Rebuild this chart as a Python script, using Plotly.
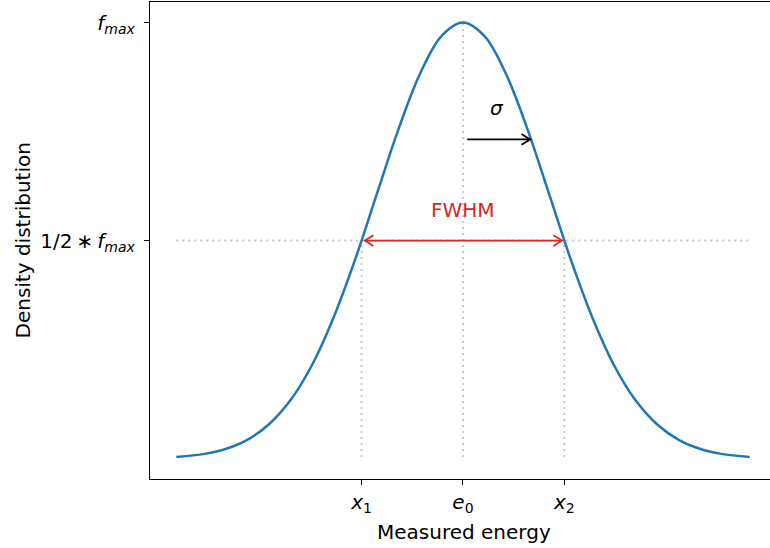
import plotly.graph_objects as go

# ---- data (in units of sigma, density normalised to f_max = 1) ----
energy = [-3.33, -3.0, -2.75, -2.5, -2.25, -2.0, -1.75, -1.5, -1.25, -1.0, -0.75, -0.5, -0.25, 0.0,
          0.25, 0.5, 0.75, 1.0, 1.25, 1.5, 1.75, 2.0, 2.25, 2.5, 2.75, 3.0, 3.33]
density = [0.0039, 0.0111, 0.0228, 0.0439, 0.0796, 0.135, 0.216, 0.325, 0.458, 0.607, 0.755, 0.882, 0.969, 1.0,
           0.969, 0.882, 0.755, 0.607, 0.458, 0.325, 0.216, 0.135, 0.0796, 0.0439, 0.0228, 0.0111, 0.0039]
x_ticks = [-1.1774, 0.0, 1.1774]
x_tick_labels = ["<i>x</i><sub>1</sub>", "<i>e</i><sub>0</sub>", "<i>x</i><sub>2</sub>"]
y_ticks = [0.5, 1.0]
y_tick_labels = ["1/2\u2009∗\u2009<i>f</i><sub><i>max</i></sub>", "<i>f</i><sub><i>max</i></sub>"]
sigma_arrow = [0.05, 0.78, 0.732]      # x start, x end, y
fwhm_arrow = [-1.14, 1.15, 0.5]        # x start, x end, y

FONT = "DejaVu Sans"
FS = 20
BLUE = "#1f77b4"
RED = "#d62728"
GRID = "#c8c8c8"

fig = go.Figure()

ymin = min(density)
xmin, xmax = min(energy), max(energy)

# guide lines
fig.add_trace(go.Scatter(x=[xmin, xmax], y=[0.5, 0.5], mode="lines",
                         line=dict(color=GRID, width=2, dash="2px,4px"), hoverinfo="skip"))
for xv, top in zip(x_ticks, [0.5, 1.0, 0.5]):
    fig.add_trace(go.Scatter(x=[xv, xv], y=[ymin, top], mode="lines",
                             line=dict(color=GRID, width=2, dash="2px,4px"), hoverinfo="skip"))

# curve
fig.add_trace(go.Scatter(x=energy, y=density, mode="lines", line=dict(color=BLUE, width=2.5, shape="spline"),
                         hoverinfo="skip"))

# arrows drawn as open V heads
HL = 0.10    # head length (x units)
HW = 0.0125  # head half-width (y units)

def arrow(x0, x1, y, color, both=False):
    xs = [x0, x1, None, x1 - HL, x1, x1 - HL]
    ys = [y, y, None, y + HW, y, y - HW]
    if both:
        xs += [None, x0 + HL, x0, x0 + HL]
        ys += [None, y + HW, y, y - HW]
    fig.add_trace(go.Scatter(x=xs, y=ys, mode="lines", line=dict(color=color, width=1.8),
                             hoverinfo="skip"))

arrow(sigma_arrow[0], sigma_arrow[1], sigma_arrow[2], "black")
arrow(fwhm_arrow[0], fwhm_arrow[1], fwhm_arrow[2], RED, both=True)

fig.add_annotation(x=0.395, y=0.805, text="<i>σ</i>", showarrow=False,
                   font=dict(family=FONT, size=FS, color="black"))
fig.add_annotation(x=0.0, y=0.5695, text="FWHM", showarrow=False,
                   font=dict(family=FONT, size=FS, color=RED))

# axis titles as annotations (pixel placement relative to plot area)
fig.add_annotation(x=(464 - 150) / 620, xref="paper", y=0, yref="paper", yanchor="middle",
                   yshift=-53, text="Measured energy", showarrow=False,
                   font=dict(family=FONT, size=FS, color="black"))
fig.add_annotation(x=0, xref="paper", xshift=22 - 150, y=0.5, yref="paper", text="Density distribution",
                   textangle=-90, showarrow=False, font=dict(family=FONT, size=FS, color="black"),
                   xanchor="center")

fig.update_layout(
    width=770, height=548,
    margin=dict(l=150, r=0, t=2, b=69, autoexpand=False),
    paper_bgcolor="white", plot_bgcolor="white",
    showlegend=False,
    font=dict(family=FONT, size=FS, color="black"),
    xaxis=dict(range=[-3.635, 3.566], tickvals=x_ticks, ticktext=x_tick_labels, automargin=False,
               showgrid=False, zeroline=False, showline=True, linecolor="black", linewidth=1.3,
               mirror=True, ticks="outside", ticklen=5, tickwidth=1.3, tickcolor="black",
               tickfont=dict(family=FONT, size=FS)),
    yaxis=dict(range=[-0.0465, 1.047], tickvals=y_ticks, ticktext=y_tick_labels, automargin=False,
               showgrid=False, zeroline=False, showline=True, linecolor="black", linewidth=1.3,
               ticks="outside", ticklen=5, tickwidth=1.3, tickcolor="black", ticklabelstandoff=5,
               tickfont=dict(family=FONT, size=FS)),
)

fig.write_html("out.html", config={"displayModeBar": False},
               post_script="document.body.style.margin='0px';")
